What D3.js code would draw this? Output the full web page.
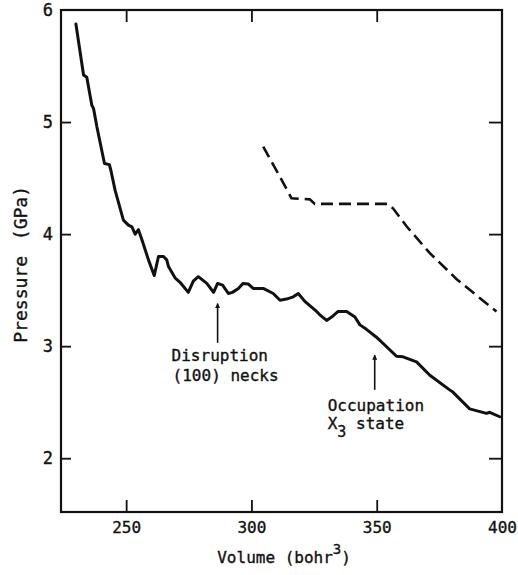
<!DOCTYPE html>
<html><head><meta charset="utf-8">
<script src="https://cdn.jsdelivr.net/npm/d3@7"></script>
<style>
html,body{margin:0;padding:0;background:#fff;}
svg{display:block;}
text{font-family:"DejaVu Sans Mono","Liberation Mono",monospace;fill:#111;stroke:#111;stroke-width:0.35px;}
</style></head>
<body>
<svg id="chart" width="518" height="575"></svg>
<script>
// ---- data ----
const solidVolume = [229.95,233.0,234.3,236.3,237.0,238.3,241.35,243.3,243.9,245.6,248.9,250.9,252.3,253.6,254.9,256.3,258.9,261.2,262.9,264.9,266.2,266.9,269.5,271.5,274.8,276.8,278.8,282.2,284.9,286.5,288.5,290.8,292.4,294.8,296.6,298.7,300.7,304.7,308.7,311.4,314.0,316.7,318.7,321.3,326.0,327.3,330.0,332.0,334.6,338.0,341.3,343.3,345.9,349.9,357.9,360.5,365.9,371.2,379.1,380.4,387.1,393.8,395.1,399.1];
const solidPressure = [5.875,5.42,5.40,5.15,5.12,4.96,4.63,4.62,4.57,4.39,4.125,4.08,4.065,4.0,4.04,3.95,3.77,3.63,3.80,3.80,3.77,3.71,3.61,3.57,3.48,3.58,3.62,3.56,3.48,3.56,3.545,3.47,3.48,3.515,3.56,3.555,3.515,3.515,3.47,3.41,3.42,3.44,3.47,3.40,3.31,3.28,3.23,3.26,3.31,3.31,3.26,3.19,3.15,3.08,2.91,2.905,2.86,2.74,2.61,2.59,2.44,2.40,2.41,2.37];
const dashedVolume = [304.7,311.4,316.0,323.3,325.3,354.5,356.5,361.9,371.2,381.8,391.1,397.8];
const dashedPressure = [4.78,4.51,4.32,4.31,4.27,4.27,4.23,4.07,3.83,3.60,3.43,3.31];
const xTicks = [250,300,350,400];
const yTicks = [2,3,4,5,6];
const xDomain = [224,400];
const yDomain = [1.52,6];
const annotations = [
  {lines:["Disruption","(100) necks"], v:286.5, from:3.03, to:3.38},
  {lines:["Occupation","X|3| state"], v:349.2, from:2.61, to:2.92}
];

// ---- layout ----
const svg = d3.select("#chart");
const L=61, R=502, T=10, B=512;
const x = d3.scaleLinear().domain(xDomain).range([L,R]);
const y = d3.scaleLinear().domain(yDomain).range([B,T]);

// frame
svg.append("rect").attr("x",L).attr("y",T).attr("width",R-L).attr("height",B-T)
  .attr("fill","none").attr("stroke","#111").attr("stroke-width",2.2);

// bottom axis
const xAxis = d3.axisBottom(x).tickValues(xTicks).tickSize(-12).tickPadding(10).tickFormat(d3.format("d"));
const gx = svg.append("g").attr("transform",`translate(0,${B})`).call(xAxis);
gx.select(".domain").remove();
gx.selectAll(".tick line").attr("stroke","#111").attr("stroke-width",1.8);
gx.selectAll(".tick").filter(d=>d===400).select("line").remove();
gx.selectAll("text").attr("font-size",16).attr("font-family","DejaVu Sans Mono").attr("fill","#111");

// top axis ticks
const gxt = svg.append("g").attr("transform",`translate(0,${T})`)
  .call(d3.axisTop(x).tickValues(xTicks.filter(d=>d<xDomain[1])).tickSize(-12).tickFormat(""));
gxt.select(".domain").remove();
gxt.selectAll(".tick line").attr("stroke","#111").attr("stroke-width",1.8);

// left axis
const yAxis = d3.axisLeft(y).tickValues(yTicks).tickSize(-10).tickPadding(8).tickFormat(d3.format("d"));
const gy = svg.append("g").attr("transform",`translate(${L},0)`).call(yAxis);
gy.select(".domain").remove();
gy.selectAll(".tick line").attr("stroke","#111").attr("stroke-width",1.8);
gy.selectAll(".tick").filter(d=>d===6).select("line").remove();
gy.selectAll("text").attr("font-size",17).attr("font-family","Liberation Sans").attr("fill","#111");

// right axis ticks
const gyr = svg.append("g").attr("transform",`translate(${R},0)`)
  .call(d3.axisRight(y).tickValues(yTicks.filter(d=>d<6)).tickSize(-13).tickFormat(""));
gyr.select(".domain").remove();
gyr.selectAll(".tick line").attr("stroke","#111").attr("stroke-width",1.8);

// axis titles
const xt = svg.append("text").attr("x",(x(300)+x(350))/2 - 30).attr("y",563)
  .attr("text-anchor","middle").attr("font-size",16);
xt.append("tspan").text("Volume (bohr");
xt.append("tspan").attr("dy",-9).attr("font-size",14).text("3");
xt.append("tspan").attr("dy",9).text(")");

svg.append("text").attr("transform",`translate(27,${y(3.73)}) rotate(-90)`)
  .attr("text-anchor","middle").attr("font-size",18).attr("font-family","Liberation Sans")
  .attr("word-spacing",5).text("Pressure (GPa)");

// lines
const line = d3.line().x(d=>x(d[0])).y(d=>y(d[1])).curve(d3.curveLinear);
svg.append("path").datum(solidVolume.map((v,i)=>[v,solidPressure[i]]))
  .attr("d",line).attr("fill","none").attr("stroke","#111").attr("stroke-width",3)
  .attr("stroke-linejoin","round").attr("stroke-linecap","round");
svg.append("path").datum(dashedVolume.map((v,i)=>[v,dashedPressure[i]]))
  .attr("d",line).attr("fill","none").attr("stroke","#111").attr("stroke-width",2.6)
  .attr("stroke-dasharray","12,6");

// arrows
svg.append("defs").append("marker").attr("id","ah").attr("viewBox","0 0 10 10")
  .attr("refX",9).attr("refY",5).attr("markerWidth",5).attr("markerHeight",7)
  .attr("orient","auto").attr("markerUnits","userSpaceOnUse")
  .append("path").attr("d","M0,0 L10,5 L0,10 Z").attr("fill","#111");

annotations.forEach((a,k)=>{
  svg.append("line").attr("x1",x(a.v)).attr("x2",x(a.v)).attr("y1",y(a.from)).attr("y2",y(a.to))
    .attr("stroke","#111").attr("stroke-width",1.6).attr("marker-end","url(#ah)");
});
// annotation 1
const a1 = annotations[0];
const ax1 = x(a1.v) - 46;
a1.lines.forEach((s,i)=>{
  svg.append("text").attr("x",ax1 + i).attr("y",y(a1.from)+18+i*20)
    .attr("font-size",16).text(s);
});
// annotation 2 (left aligned)
const a2 = annotations[1];
const ax2 = x(a2.v) - 47;
svg.append("text").attr("x",ax2).attr("y",y(a2.from)+21).attr("font-size",16).text(a2.lines[0]);
const t2 = svg.append("text").attr("x",ax2).attr("y",y(a2.from)+39).attr("font-size",16);
const parts = a2.lines[1].split("|");
t2.append("tspan").text(parts[0]);
t2.append("tspan").attr("dy",8).attr("font-size",15).text(parts[1]);
t2.append("tspan").attr("dy",-8).text(parts[2]);
</script>
</body></html>
